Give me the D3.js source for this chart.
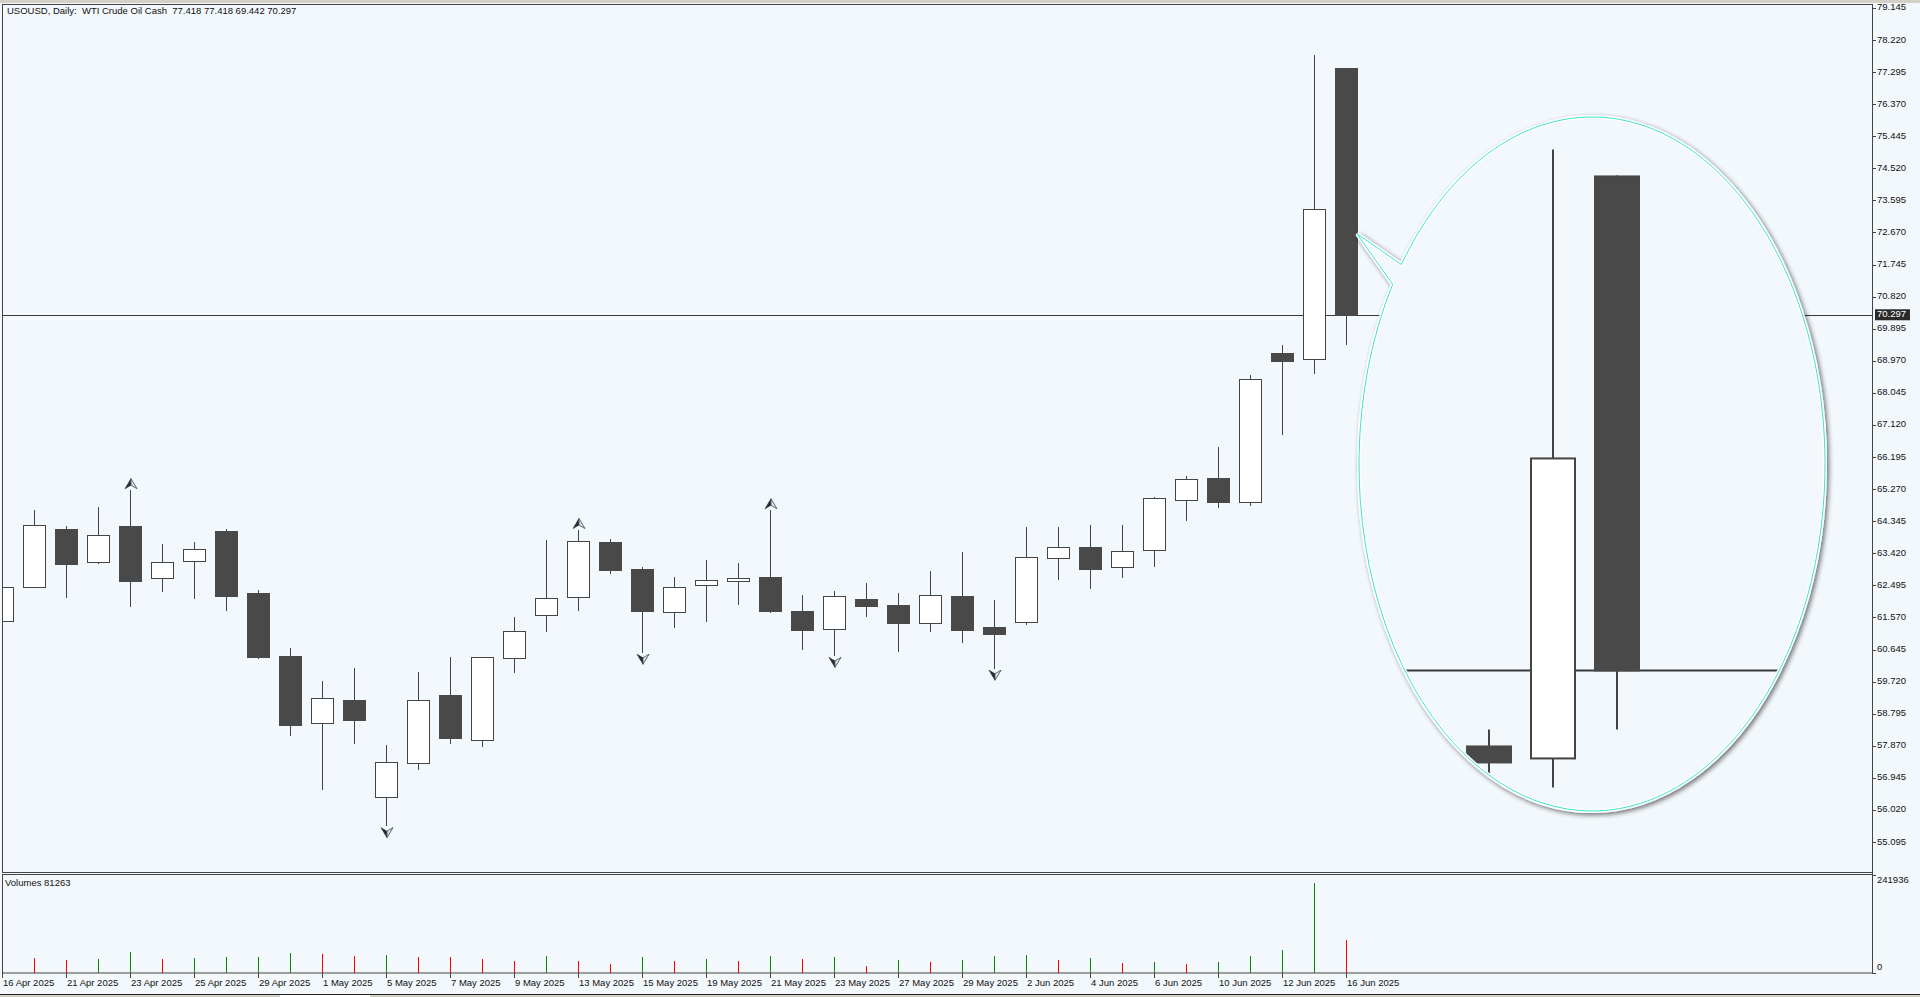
<!DOCTYPE html>
<html>
<head>
<meta charset="utf-8">
<script src="https://cdn.jsdelivr.net/npm/d3@7"></script>
<style>
html, body { margin: 0; padding: 0; background: #f3f8fc; overflow: hidden; }
svg { display: block; }
text { font-family: "Liberation Sans", Arial, sans-serif; font-size: 9.5px; fill: #111; }
</style>
</head>
<body>
<div id="chart"></div>
<script>
// ---- data ----
var symbol = "USOUSD, Daily:  WTI Crude Oil Cash";
var dates = ["16 Apr 2025","17 Apr 2025","21 Apr 2025","22 Apr 2025","23 Apr 2025","24 Apr 2025","25 Apr 2025",
  "28 Apr 2025","29 Apr 2025","30 Apr 2025","1 May 2025","2 May 2025","5 May 2025","6 May 2025","7 May 2025",
  "8 May 2025","9 May 2025","12 May 2025","13 May 2025","14 May 2025","15 May 2025","16 May 2025","19 May 2025",
  "20 May 2025","21 May 2025","22 May 2025","23 May 2025","26 May 2025","27 May 2025","28 May 2025","29 May 2025",
  "30 May 2025","2 Jun 2025","3 Jun 2025","4 Jun 2025","5 Jun 2025","6 Jun 2025","9 Jun 2025","10 Jun 2025",
  "11 Jun 2025","12 Jun 2025","13 Jun 2025","16 Jun 2025"];
var open  = [61.46,62.46,64.12,63.16,64.21,62.70,63.19,64.06,62.27,60.46,58.52,59.19,56.38,57.36,59.32,58.03,60.39,
  61.63,62.15,63.75,62.97,61.72,62.50,62.61,62.74,61.76,61.23,62.10,61.93,61.40,62.19,61.29,61.43,63.28,63.59,63.02,
  63.51,64.95,65.58,64.90,69.20,69.01,77.418];
var high  = [62.45,64.67,64.21,64.75,65.24,63.69,63.75,64.11,62.36,60.69,59.74,60.11,57.89,60.00,60.43,60.43,61.58,
  63.80,64.09,63.82,63.02,62.74,63.23,63.14,64.66,62.22,62.33,62.56,62.27,62.91,63.46,62.07,64.18,64.18,64.24,64.24,
  65.03,65.65,66.48,68.56,69.43,77.79,77.418];
var low   = [61.45,62.45,62.17,63.15,61.91,62.34,62.14,61.79,60.41,58.19,56.63,57.96,55.58,57.19,57.96,57.87,60.01,
  61.19,61.79,62.86,60.58,61.30,61.48,61.97,61.74,60.67,60.49,61.62,60.61,61.19,60.87,60.12,61.39,62.69,62.43,62.74,
  63.06,64.39,64.76,64.81,66.87,68.63,69.442];
var close = [62.44,64.23,63.12,63.94,62.63,63.16,63.53,62.20,60.44,58.48,59.24,58.62,57.39,59.18,58.10,60.42,61.17,
  62.12,63.77,62.95,61.76,62.44,62.64,62.70,61.76,61.22,62.18,61.91,61.42,62.21,61.22,61.10,63.30,63.59,62.98,63.48,
  65.00,65.55,64.91,68.44,68.97,73.34,70.297];
var volume = [41000,37800,32800,35300,51800,34600,37800,39500,40100,49400,46900,42000,44400,39500,39100,34600,30400,
  42000,30400,22200,39500,30400,34600,29600,42000,34600,39500,17300,32100,27200,32100,42000,44400,32100,37000,24700,
  27200,22200,27200,42000,56800,222300,81263];
var fractalUp = [4, 18, 24];
var fractalDown = [12, 20, 26, 31];
var priceTicks = ["79.145","78.220","77.295","76.370","75.445","74.520","73.595","72.670","71.745","70.820","69.895",
  "68.970","68.045","67.120","66.195","65.270","64.345","63.420","62.495","61.570","60.645","59.720","58.795",
  "57.870","56.945","56.020","55.095"];
var volumeTicks = ["241936", "0"];

// ---- layout ----
var W = 1920, H = 997;
var plot = {left: 2, right: 1872, top: 4, bottom: 872};
var vpane = {top: 875, bottom: 973};
var BG = "#f3f8fc", INK = "#444444", DARK = "#494949";
var barStep = 32, bodyW = 22;
var last = dates.length - 1;

var xScale = d3.scaleLinear().domain([0, last]).range([2, 2 + barStep * last]);
var yScale = d3.scaleLinear().domain([55.095, 78.22]).range([842, 40]);
var vScale = d3.scaleLinear().domain([0, +volumeTicks[0]]).range([vpane.bottom, vpane.top]);

var bars = dates.map(function(d, i){
  return {i: i, date: d, o: open[i], h: high[i], l: low[i], c: close[i], v: volume[i]};
});

var svg = d3.select("#chart").append("svg")
    .attr("width", W)
    .attr("height", H);

var defs = svg.append("defs");
defs.append("clipPath").attr("id", "plotClip")
  .append("rect")
    .attr("x", plot.left + 1).attr("y", plot.top + 1)
    .attr("width", plot.right - plot.left - 1).attr("height", plot.bottom - plot.top - 1);
defs.append("clipPath").attr("id", "volClip")
  .append("rect")
    .attr("x", plot.left + 1).attr("y", vpane.top)
    .attr("width", plot.right - plot.left - 1).attr("height", vpane.bottom - vpane.top);

var shadow = defs.append("filter").attr("id", "shadow")
    .attr("x", "-10%").attr("y", "-10%").attr("width", "125%").attr("height", "125%");
shadow.append("feGaussianBlur").attr("in", "SourceAlpha").attr("stdDeviation", 2.5);
shadow.append("feOffset").attr("dx", 2).attr("dy", 2).attr("result", "off");
shadow.append("feComponentTransfer").append("feFuncA").attr("type", "linear").attr("slope", 0.55);
var merge = shadow.append("feMerge");
merge.append("feMergeNode");
merge.append("feMergeNode").attr("in", "SourceGraphic");

svg.append("rect").attr("width", W).attr("height", H).style("fill", BG);

// window chrome strips
svg.append("rect").attr("x", 0).attr("y", 0).attr("width", W).attr("height", 3).style("fill", "#d4d0c8");
svg.append("rect").attr("x", 0).attr("y", 994).attr("width", W).attr("height", 3).style("fill", "#d4d0c8");
svg.append("line").attr("x1", 0).attr("x2", W).attr("y1", 994.5).attr("y2", 994.5).style("stroke", "#222");
svg.append("rect").attr("x", 280).attr("y", 995).attr("width", 90).attr("height", 2).style("fill", "#ffffff");

// pane frames
svg.append("rect")
    .attr("x", plot.left + 0.5).attr("y", plot.top + 0.5)
    .attr("width", plot.right - plot.left).attr("height", plot.bottom - plot.top)
    .style("fill", "none").style("stroke", INK);
svg.append("rect")
    .attr("x", plot.left + 0.5).attr("y", vpane.top - 0.5)
    .attr("width", plot.right - plot.left).attr("height", vpane.bottom - vpane.top + 0.5)
    .style("fill", "none").style("stroke", INK);

// candles
function drawCandles(g){
  g.append("line")
      .attr("class", "priceLine")
      .attr("x1", 0).attr("x2", plot.right)
      .attr("y1", Math.round(yScale(close[last])) + 0.5)
      .attr("y2", Math.round(yScale(close[last])) + 0.5)
      .style("stroke", "#3a3a3a");

  var c = g.selectAll("g.candle")
      .data(bars).enter()
    .append("g")
      .attr("class", "candle")
      .attr("transform", function(d){ return "translate(" + xScale(d.i) + ",0)"; });

  c.append("line")
      .attr("x1", 0.5).attr("x2", 0.5)
      .attr("y1", function(d){ return Math.round(yScale(d.h)); })
      .attr("y2", function(d){ return Math.round(yScale(d.l)) + 1; })
      .style("stroke", INK);

  c.append("rect")
      .attr("x", -bodyW / 2 + 0.5)
      .attr("y", function(d){ return Math.round(yScale(Math.max(d.o, d.c))) + 0.5; })
      .attr("width", bodyW)
      .attr("height", function(d){ return Math.max(1, Math.round(yScale(Math.min(d.o, d.c))) - Math.round(yScale(Math.max(d.o, d.c)))); })
      .style("fill", function(d){ return d.c >= d.o ? "#ffffff" : DARK; })
      .style("stroke", function(d){ return d.c >= d.o ? INK : DARK; });
}

var main = svg.append("g").attr("clip-path", "url(#plotClip)").style("shape-rendering", "crispEdges");
drawCandles(main);

// fractal arrows
function arrow(g, x, y, up){
  var s = up ? 1 : -1;
  var a = g.append("g")
      .style("shape-rendering", "auto")
      .attr("transform", "translate(" + (x + 1) + "," + y + ") scale(1," + s + ")");
  a.append("path").attr("d", "M0,-10 L-6,0 L0,-3.5 Z").style("fill", "#2a2a2a").style("stroke", "#2a2a2a").style("stroke-width", 0.6);
  a.append("path").attr("d", "M0,-10 L6,0 L0,-3.5 Z").style("fill", "#dde6f0").style("stroke", "#4d5866").style("stroke-width", 0.9);
}
fractalUp.forEach(function(i){ arrow(main, xScale(i), yScale(high[i]) - 1.5, true); });
fractalDown.forEach(function(i){ arrow(main, xScale(i), yScale(low[i]) + 2.5, false); });

// price axis
svg.append("line")
    .attr("x1", plot.right + 0.5).attr("x2", plot.right + 0.5)
    .attr("y1", plot.top).attr("y2", vpane.bottom)
    .style("stroke", INK);

var pt = svg.append("g").attr("class", "priceAxis");
pt.selectAll("line")
    .data(priceTicks).enter()
  .append("line")
    .attr("x1", plot.right).attr("x2", plot.right + 4)
    .attr("y1", function(d){ return Math.round(yScale(+d)) + 0.5; })
    .attr("y2", function(d){ return Math.round(yScale(+d)) + 0.5; })
    .style("stroke", INK);
pt.selectAll("text")
    .data(priceTicks).enter()
  .append("text")
    .attr("x", plot.right + 5)
    .attr("y", function(d){ return yScale(+d); })
    .style("dominant-baseline", "middle")
    .text(function(d){ return d; });

var pl = yScale(close[last]);
svg.append("rect")
    .attr("x", plot.right + 3).attr("y", pl - 5.5)
    .attr("width", 35).attr("height", 11)
    .style("fill", "#2b2b2b");
svg.append("text")
    .attr("x", plot.right + 5).attr("y", pl)
    .style("dominant-baseline", "middle")
    .style("fill", "#ffffff")
    .text(d3.format(".3f")(close[last]));

// title
svg.append("text")
    .attr("x", 7).attr("y", 11)
    .style("dominant-baseline", "middle")
    .attr("xml:space", "preserve")
    .style("white-space", "pre")
    .text(symbol + "  " + [open[last], high[last], low[last], close[last]].map(d3.format(".3f")).join(" "));

// volumes
svg.append("text")
    .attr("x", 5).attr("y", 883)
    .style("dominant-baseline", "middle")
    .text("Volumes " + volume[last]);

svg.append("g")
    .attr("clip-path", "url(#volClip)")
    .style("shape-rendering", "crispEdges")
    .selectAll("rect.vol")
    .data(bars).enter()
  .append("rect")
    .attr("class", "vol")
    .attr("x", function(d){ return xScale(d.i); })
    .attr("y", function(d){ return Math.round(vScale(d.v)); })
    .attr("width", 1)
    .attr("height", function(d){ return vpane.bottom - Math.round(vScale(d.v)); })
    .style("fill", function(d, i){ return (i == 0 || d.v > volume[i - 1]) ? "#0a8a0a" : "#ff0000"; });

svg.selectAll("line.vtick")
    .data(volumeTicks).enter()
  .append("line")
    .attr("class", "vtick")
    .attr("x1", plot.right).attr("x2", plot.right + 4)
    .attr("y1", function(d){ return Math.round(vScale(+d)) + 0.5; })
    .attr("y2", function(d){ return Math.round(vScale(+d)) + 0.5; })
    .style("stroke", INK);
svg.selectAll("text.vlabel")
    .data(volumeTicks).enter()
  .append("text")
    .attr("class", "vlabel")
    .attr("x", plot.right + 5)
    .attr("y", function(d, i){ return vScale(+d) + (i == 0 ? 5 : -6); })
    .style("dominant-baseline", "middle")
    .text(function(d){ return d; });

// date axis
var dateTicks = bars.filter(function(d){ return d.i % 2 == 0; });
svg.selectAll("line.dtick")
    .data(dateTicks).enter()
  .append("line")
    .attr("class", "dtick")
    .attr("x1", function(d){ return xScale(d.i) + 0.5; })
    .attr("x2", function(d){ return xScale(d.i) + 0.5; })
    .attr("y1", vpane.bottom).attr("y2", vpane.bottom + 5)
    .style("stroke", INK);
svg.selectAll("text.dlabel")
    .data(dateTicks).enter()
  .append("text")
    .attr("class", "dlabel")
    .attr("x", function(d){ return xScale(d.i) + 1; })
    .attr("y", 983)
    .style("dominant-baseline", "middle")
    .text(function(d){ return d.date; });

// magnifier bubble
var bub = {cx: 1592, cy: 464, rx: 233, ry: 347, a1: 211.2, a2: 215.1, zoom: 2, ax: 1616, ay: 669};
function ep(deg){
  var t = deg * Math.PI / 180;
  return [bub.cx + bub.rx * Math.cos(t), bub.cy + bub.ry * Math.sin(t)];
}
var tip = [xScale(last) + bodyW / 2, yScale(72.63)];
var p1 = ep(bub.a2), p2 = ep(bub.a1);
var bubblePath = "M" + p2 + "L" + tip + "L" + p1 + "A" + bub.rx + "," + bub.ry + " 0 1 1 " + p2 + "Z";

defs.append("clipPath").attr("id", "lensClip")
  .append("ellipse")
    .attr("cx", bub.cx).attr("cy", bub.cy)
    .attr("rx", bub.rx - 2).attr("ry", bub.ry - 2);

svg.append("path")
    .attr("d", bubblePath)
    .style("fill", BG)
    .style("stroke", "#ffffff")
    .style("stroke-width", 4)
    .attr("filter", "url(#shadow)");

var lens = svg.append("g").attr("clip-path", "url(#lensClip)")
  .append("g")
    .attr("transform", "translate(" + (bub.ax - bub.zoom * xScale(last)) + "," + (bub.ay - bub.zoom * yScale(close[last])) + ") scale(" + bub.zoom + ")");
drawCandles(lens);

svg.append("path")
    .attr("d", bubblePath)
    .style("fill", "none")
    .style("stroke", "#3fe3cc")
    .style("stroke-width", 1);
</script>
</body>
</html>
